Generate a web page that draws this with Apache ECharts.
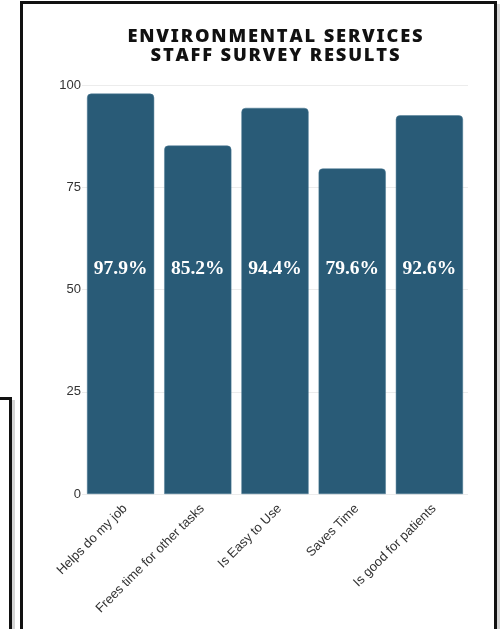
<!DOCTYPE html>
<html>
<head>
<meta charset="utf-8">
<script src="https://cdn.jsdelivr.net/npm/echarts@6/dist/echarts.min.js"></script>
<style>
  html, body { margin: 0; padding: 0; background: #fff; width: 501px; height: 629px; overflow: hidden; }
  .frame { position: absolute; box-sizing: border-box; border: 3px solid #111; box-shadow: 3px 3px 0 #d4d4d4; }
  #sideFrame { left: -20px; top: 397px; width: 32px; height: 300px; }
  #mainFrame { left: 20px; top: 1px; width: 477px; height: 700px; background: #fff; }
  #chart { position: absolute; left: 0; top: 0; width: 501px; height: 629px; }
</style>
</head>
<body>
<div class="frame" id="sideFrame"></div>
<div class="frame" id="mainFrame"></div>
<div id="chart"></div>
<script>
// Survey questions and the share of staff who agreed
const categories = ['Helps do my job', 'Frees time for other tasks', 'Is Easy to Use', 'Saves Time', 'Is good for patients'];
const agreePct = [97.9, 85.2, 94.4, 79.6, 92.6];
const yTicks = [0, 25, 50, 75, 100];
const titleLines = ['ENVIRONMENTAL SERVICES', 'STAFF SURVEY RESULTS'];

// widen the tracking of the heading with hair spaces between letters
const spaced = s => s.split('').join('\u200A');

const chart = echarts.init(document.getElementById('chart'), null, { renderer: 'canvas' });

chart.setOption({
  backgroundColor: 'transparent',
  animation: false,
  graphic: [{
    type: 'text',
    x: 275,
    y: 27,
    style: {
      text: titleLines.map(spaced).join('\n'),
      textAlign: 'center',
      textVerticalAlign: 'top',
      fontFamily: 'Noto Sans',
      fontWeight: 900,
      fontSize: 18.3,
      lineHeight: 19.5,
      fill: '#111'
    }
  }],
  grid: { left: 82, right: 33, top: 85, bottom: 135, containLabel: false },
  xAxis: {
    type: 'category',
    data: categories,
    axisLine: { show: false },
    axisTick: { show: false },
    axisLabel: {
      rotate: 45,
      interval: 0,
      margin: 8,
      verticalAlign: 'top',
      fontFamily: 'Liberation Sans',
      fontSize: 13,
      color: '#333'
    }
  },
  yAxis: {
    type: 'value',
    min: yTicks[0],
    max: yTicks[yTicks.length - 1],
    interval: yTicks[1] - yTicks[0],
    axisLine: { show: false },
    axisTick: { show: false },
    axisLabel: {
      margin: 1,
      fontFamily: 'Liberation Sans',
      fontSize: 13,
      color: '#333'
    },
    splitLine: { lineStyle: { color: '#ececec', width: 1 } }
  },
  series: [{
    type: 'bar',
    data: agreePct,
    barCategoryGap: '13%',
    itemStyle: {
      color: '#295b77',
      borderRadius: [4, 4, 0, 0],
      borderColor: '#4d7a94',
      borderWidth: 0.5
    },
    label: {
      show: true,
      position: 'insideBottom',
      distance: 215,
      formatter: p => p.value.toFixed(1) + '%',
      fontFamily: 'Liberation Serif',
      fontWeight: 'bold',
      fontSize: 19.5,
      color: '#fff'
    }
  }]
});
</script>
</body>
</html>
